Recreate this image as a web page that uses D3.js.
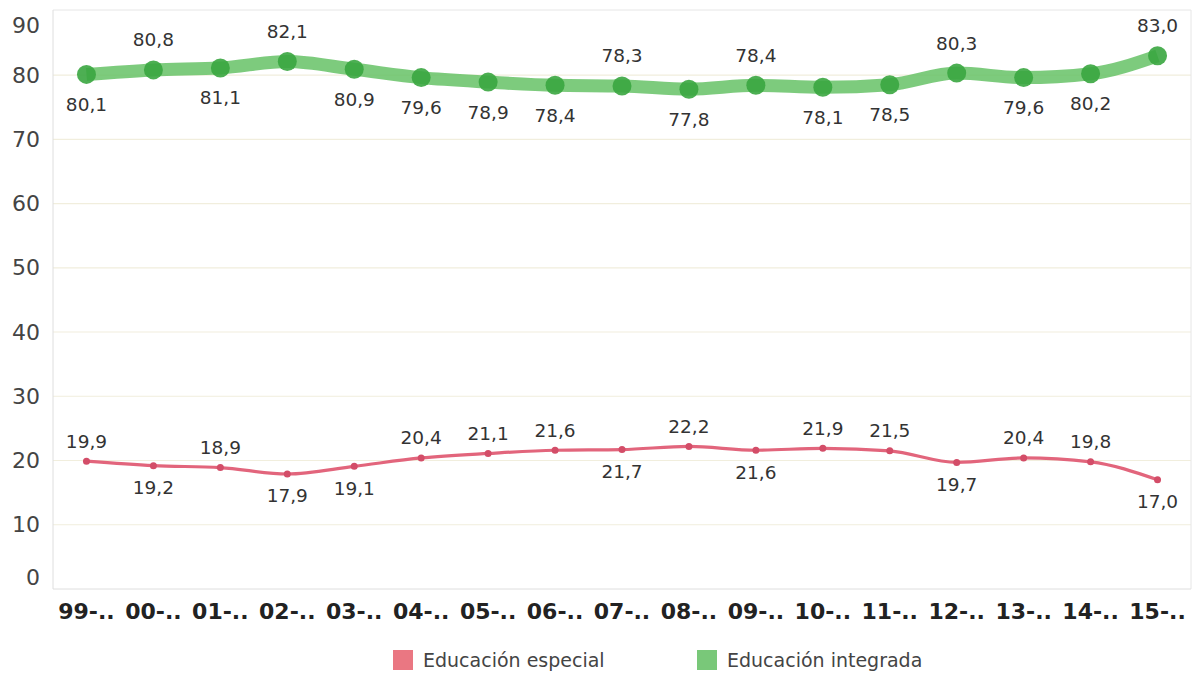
<!DOCTYPE html>
<html><head><meta charset="utf-8">
<script src="https://cdn.jsdelivr.net/npm/d3@7"></script>
<style>body{margin:0;background:#fff}svg{display:block}</style>
</head><body>
<svg id="c" width="1203" height="673"></svg>
<script>
const categories = ["99-..","00-..","01-..","02-..","03-..","04-..","05-..","06-..","07-..","08-..","09-..","10-..","11-..","12-..","13-..","14-..","15-.."];
const especial = [19.9,19.2,18.9,17.9,19.1,20.4,21.1,21.6,21.7,22.2,21.6,21.9,21.5,19.7,20.4,19.8,17.0];
const integrada = [80.1,80.8,81.1,82.1,80.9,79.6,78.9,78.4,78.3,77.8,78.4,78.1,78.5,80.3,79.6,80.2,83.0];
const especialLabelSide = ["a","b","a","b","b","a","a","a","b","a","b","a","a","b","a","a","b"];
const integradaLabelSide = ["b","a","b","a","b","b","b","b","a","b","a","b","b","a","b","b","a"];
const yTicks = [0,10,20,30,40,50,60,70,80,90];
const seriesNames = ["Educación especial","Educación integrada"];

(function () {
const svg = d3.select("#c");
const pL = 53, pR = 1191, pT = 10, pB = 589;
const x = d3.scalePoint().domain(categories).range([pL, pR]).padding(0.5);
const y = d3.scaleLinear().domain([0, 90]).range([pB, 10.8]);
const font = "DejaVu Sans, Verdana, sans-serif";

// gridlines
svg.append("g").selectAll("line").data(yTicks.filter(d => d > 0 && d < 90)).join("line")
  .attr("x1", pL).attr("x2", pR).attr("y1", d => y(d)).attr("y2", d => y(d))
  .attr("stroke", "#f1eedd").attr("stroke-width", 1.2);
// frame
svg.append("line").attr("x1", pL).attr("x2", pR).attr("y1", pT).attr("y2", pT).attr("stroke", "#e6e6e6");
svg.append("line").attr("x1", pR).attr("x2", pR).attr("y1", pT).attr("y2", pB).attr("stroke", "#e6e6e6");
svg.append("line").attr("x1", pL).attr("x2", pL).attr("y1", pT).attr("y2", pB).attr("stroke", "#dedede");
svg.append("line").attr("x1", pL).attr("x2", pR).attr("y1", pB).attr("y2", pB).attr("stroke", "#dedede");

// y tick labels
const yLabelPos = d => d === 0 ? y(d) - 12 : (d === 90 ? y(d) + 14 : y(d));
svg.append("g").selectAll("text").data(yTicks).join("text")
  .attr("x", 40).attr("y", d => yLabelPos(d)).attr("dy", "0.35em")
  .attr("text-anchor", "end").attr("font-family", font).attr("font-size", 22).attr("fill", "#444")
  .text(d => d);

// x labels
svg.append("g").selectAll("text").data(categories).join("text")
  .attr("x", d => x(d)).attr("y", 611).attr("dy", "0.35em")
  .attr("text-anchor", "middle").attr("font-family", font).attr("font-weight", "bold")
  .attr("font-size", 22).attr("fill", "#222").text(d => d);

const line = d3.line().x((d, i) => x(categories[i])).y(d => y(d)).curve(d3.curveMonotoneX);

// green series
svg.append("path").datum(integrada).attr("d", line).attr("fill", "none")
  .attr("stroke", "#66c266").attr("stroke-opacity", 0.85).attr("stroke-width", 13).attr("stroke-linejoin", "round");
svg.append("g").selectAll("circle").data(integrada).join("circle")
  .attr("cx", (d, i) => x(categories[i])).attr("cy", d => y(d)).attr("r", 9.5).attr("fill", "#3aa640").attr("opacity", 0.9);

// red series
svg.append("path").datum(especial).attr("d", line).attr("fill", "none")
  .attr("stroke", "#e2657c").attr("stroke-width", 3.2);
svg.append("g").selectAll("circle").data(especial).join("circle")
  .attr("cx", (d, i) => x(categories[i])).attr("cy", d => y(d)).attr("r", 3.5).attr("fill", "#d34d68");

const fmt = v => v.toFixed(1).replace(".", ",");
function labels(data, sides, offA, offB) {
  svg.append("g").selectAll("text").data(data).join("text")
    .attr("x", (d, i) => x(categories[i])).attr("y", (d, i) => y(d) + (sides[i] === "a" ? offA : offB))
    .attr("dy", "0.35em").attr("text-anchor", "middle").attr("font-family", font)
    .attr("font-size", 18.5).attr("fill", "#333").text(d => fmt(d))
    .each(function () {
      const b = this.getBBox();
      const cx = +this.getAttribute("x");
      if (b.x < pL) this.setAttribute("x", cx + (pL - b.x));
      if (b.x + b.width > pR - 3) this.setAttribute("x", cx - (b.x + b.width - pR + 3));
    });
}
labels(integrada, integradaLabelSide, -30, 30);
labels(especial, especialLabelSide, -20, 22);

// legend
const colors = ["#ea7782", "#79c879"];
const lx = [393, 697];
seriesNames.forEach((n, i) => {
  svg.append("rect").attr("x", lx[i]).attr("y", 650).attr("width", 20).attr("height", 20).attr("fill", colors[i]);
  svg.append("text").attr("x", lx[i] + 30).attr("y", 660).attr("dy", "0.35em")
    .attr("font-family", font).attr("font-size", 19).attr("fill", "#444").text(n);
});
})();
</script>
</body></html>
